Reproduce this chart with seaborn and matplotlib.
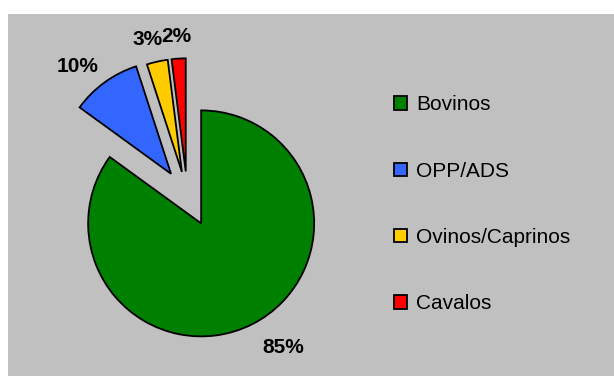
import matplotlib
matplotlib.use("Agg")
import matplotlib.pyplot as plt
from matplotlib.patches import Rectangle
import numpy as np
import seaborn as sns

# ---- data ----
categories = ["Bovinos", "OPP/ADS", "Ovinos/Caprinos", "Cavalos"]
values = [85, 10, 3, 2]
colors = ["#008000", "#3366ff", "#ffcc00", "#ff0000"]
explode = [0.27, 0.245, 0.22, 0.22]
label_dist = [1.32, 1.26, 1.215, 1.20]
label_shift_deg = [6.5, 5.0, 2.0, 0.4]

sns.set_style("white")
plt.rcParams["font.family"] = ["Liberation Sans", "DejaVu Sans"]

W, H = 614, 376
fig = plt.figure(figsize=(W / 100, H / 100), dpi=100)
fig.patch.set_facecolor("white")
fig.patches.append(Rectangle((8 / W, 0), 1, (H - 14) / H, transform=fig.transFigure,
                             facecolor="#c0c0c0", edgecolor="none", zorder=-10))

R = 113.0
cx, cy = 187.3, H - 196.2
half = 1.6 * R
ax = fig.add_axes([(cx - half) / W, (cy - half) / H, 2 * half / W, 2 * half / H])
ax.set_facecolor("none")

wedges, texts, autotexts = ax.pie(
    values, explode=explode, colors=sns.color_palette(colors), startangle=90,
    counterclock=False, autopct="%1.0f%%", pctdistance=1.27,
    wedgeprops=dict(edgecolor="black", linewidth=1.3),
    textprops=dict(fontsize=15, fontweight="bold", color="black"))
for w, t, d, s in zip(wedges, autotexts, label_dist, label_shift_deg):
    w.set_clip_on(False)
    a = np.deg2rad((w.theta1 + w.theta2) / 2 + s)
    x0, y0 = w.center
    t.set_position((x0 + d * w.r * np.cos(a), y0 + d * w.r * np.sin(a)))
ax.set_xlim(-1.6, 1.6)
ax.set_ylim(-1.6, 1.6)
ax.set_aspect("equal")
ax.axis("off")

leg = fig.legend(wedges, categories, loc="upper left",
                 bbox_to_anchor=(394 / W, (H - 95.5) / H), frameon=False,
                 fontsize=15, handlelength=0.62, handleheight=0.62,
                 handletextpad=0.45, labelspacing=2.27, borderpad=0,
                 borderaxespad=0, labelcolor="black")

fig.savefig("out.png", dpi=100)
